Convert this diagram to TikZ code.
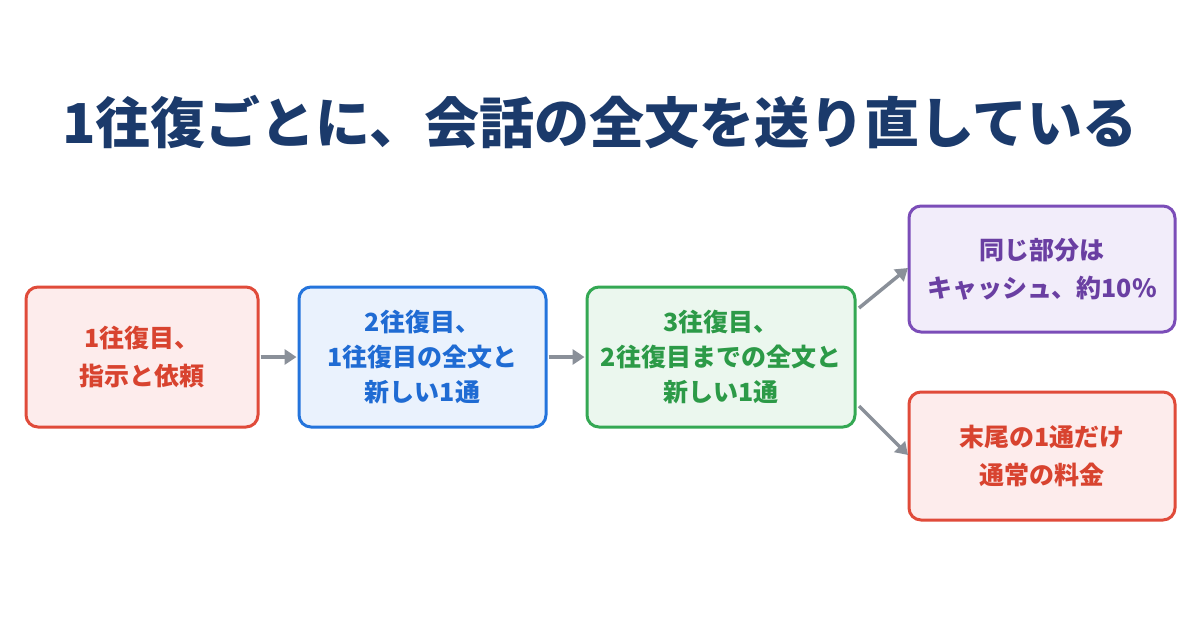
\documentclass[tikz,border=0pt]{standalone}
\usepackage{fontspec}
\setmainfont{Noto Sans CJK JP}[BoldFont={Noto Sans CJK JP Black}]
\usetikzlibrary{arrows.meta}
\definecolor{navy}{HTML}{1B3A6B}
\definecolor{redln}{HTML}{E04B3A}
\definecolor{redfl}{HTML}{FDECEC}
\definecolor{redtx}{HTML}{D8432F}
\definecolor{blueln}{HTML}{2474DC}
\definecolor{bluefl}{HTML}{EAF2FD}
\definecolor{bluetx}{HTML}{1F6BD3}
\definecolor{greenln}{HTML}{34A853}
\definecolor{greenfl}{HTML}{EBF7EE}
\definecolor{greentx}{HTML}{2C9A47}
\definecolor{purpln}{HTML}{7B4DB8}
\definecolor{purpfl}{HTML}{F2EDFA}
\definecolor{purptx}{HTML}{6A3FA2}
\definecolor{arrgray}{HTML}{8A9099}
\tikzset{
  box/.style={draw, line width=3pt, rounded corners=12pt, align=center,
    font=\fontsize{25}{38}\selectfont\bfseries, inner sep=0pt},
  box3/.style={box, font=\fontsize{25}{35}\selectfont\bfseries},
  conn/.style={draw=arrgray, line width=3.5pt, -{Triangle[length=12pt,width=15pt]}}
}
\begin{document}
\begin{tikzpicture}[x=1pt,y=-1pt]
\useasboundingbox[fill=white] (0,0) rectangle (1200,630);
\node[font=\fontsize{55}{60}\selectfont\bfseries, text=navy] (title) at (600,122) {1往復ごとに、会話の全文を送り直している};
\node[box, draw=redln, fill=redfl, text=redtx, minimum width=232pt, minimum height=140pt] (b1) at (142,357) {1往復目、\\指示と依頼};
\node[box3, draw=blueln, fill=bluefl, text=bluetx, minimum width=247pt, minimum height=140pt] (b2) at (422.5,357) {2往復目、\\1往復目の全文と\\新しい1通};
\node[box3, draw=greenln, fill=greenfl, text=greentx, minimum width=268pt, minimum height=140pt] (b3) at (721,357) {3往復目、\\2往復目までの全文と\\新しい1通};
\node[box, draw=purpln, fill=purpfl, text=purptx, minimum width=266pt, minimum height=126pt] (b4) at (1042,269) {同じ部分は\\キャッシュ、約10\%};
\node[box, draw=redln, fill=redfl, text=redtx, minimum width=266pt, minimum height=128pt] (b5) at (1042,456) {末尾の1通だけ\\通常の料金};
\draw[conn] (b1.east) ++(1,0) -- ([xshift=-1pt]b2.west);
\draw[conn] (b2.east) ++(1,0) -- ([xshift=-1pt]b3.west);
\coordinate (s4) at (859,308);
\coordinate (e4) at (908,268);
\coordinate (s5) at (859,406);
\coordinate (e5) at (908,455);
\draw[conn] (s4) -- (e4);
\draw[conn] (s5) -- (e5);
\end{tikzpicture}
\end{document}
